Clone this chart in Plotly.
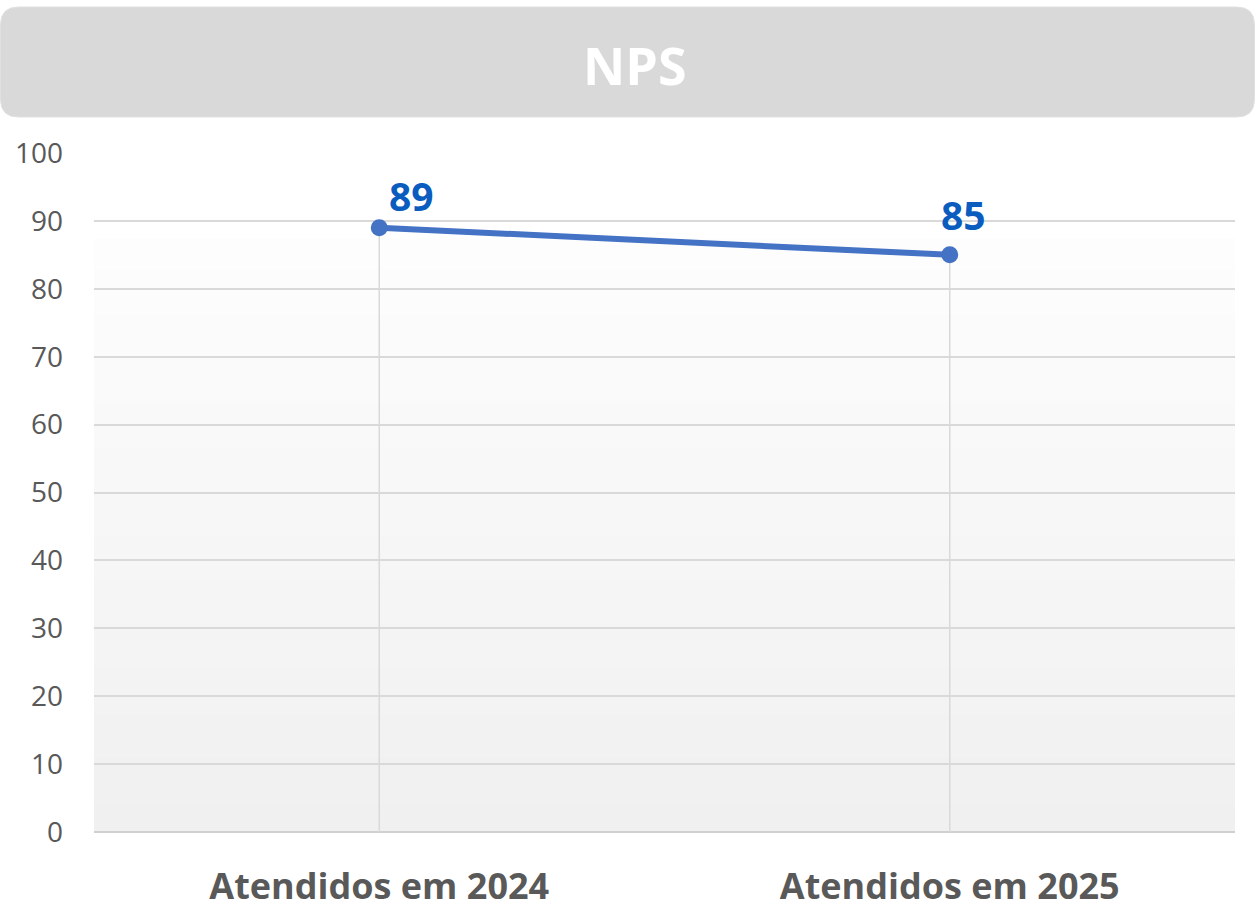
import plotly.graph_objects as go

categories = ["Atendidos em 2024", "Atendidos em 2025"]
nps_values = [89, 85]
y_ticks = [0, 10, 20, 30, 40, 50, 60, 70, 80, 90, 100]
title_text = "NPS"
label_shifts = [(32, 32), (14, 40)]  # (x, y) pixel offsets of value labels

FONT = "Open Sans"
W, H = 1255, 905
PL, PR, PT, PB = 94, 1235, 153, 832  # plot area in page pixels

fig = go.Figure()

fig.add_trace(go.Scatter(
    x=categories, y=nps_values,
    mode="lines+markers",
    line=dict(color="#4472C4", width=6),
    marker=dict(color="#4472C4", size=17),
    error_y=dict(type="data", symmetric=False, array=[0] * len(nps_values),
                 arrayminus=nps_values, color="#D9D9D9", thickness=1.5, width=0),
    hoverinfo="skip", showlegend=False, cliponaxis=False,
))

# gradient background of plot area
shapes = []
n = 40
top = 0.872
c_top = (253, 253, 253)
c_bot = (240, 240, 240)
for i in range(n):
    y0 = top * i / n
    y1 = top * (i + 1) / n
    t = (i + 0.5) / n
    c = tuple(round(c_bot[k] + (c_top[k] - c_bot[k]) * t) for k in range(3))
    shapes.append(dict(type="rect", xref="x domain", yref="y domain",
                       x0=0, x1=1, y0=y0, y1=y1 + 0.002, layer="below",
                       line=dict(width=0), fillcolor="rgb(%d,%d,%d)" % c))

# title banner with rounded corners (page px -> paper coords)
def px(x): return (x - PL) / (PR - PL)
def py(y): return (PB - y) / (PB - PT)
x0, x1, yt0, yt1, r = 0.5, 1254.5, 7, 117, 18
path = (f"M {px(x0 + r)},{py(yt0)} L {px(x1 - r)},{py(yt0)} "
        f"Q {px(x1)},{py(yt0)} {px(x1)},{py(yt0 + r)} "
        f"L {px(x1)},{py(yt1 - r)} Q {px(x1)},{py(yt1)} {px(x1 - r)},{py(yt1)} "
        f"L {px(x0 + r)},{py(yt1)} Q {px(x0)},{py(yt1)} {px(x0)},{py(yt1 - r)} "
        f"L {px(x0)},{py(yt0 + r)} Q {px(x0)},{py(yt0)} {px(x0 + r)},{py(yt0)} Z")
shapes.append(dict(type="path", xref="paper", yref="paper", path=path,
                   fillcolor="#D9D9D9", line=dict(color="#E0E0E0", width=1), layer="below"))

annotations = [dict(text=title_text, xref="paper", yref="paper",
                    x=px(635), y=py(64), xanchor="center", yanchor="middle",
                    showarrow=False,
                    font=dict(family=FONT, size=52, color="white", weight="bold"))]
for cat, val, (dx, dy) in zip(categories, nps_values, label_shifts):
    annotations.append(dict(text=str(val), x=cat, y=val, xref="x", yref="y",
                            xanchor="center", yanchor="middle", showarrow=False,
                            xshift=dx, yshift=dy,
                            font=dict(family=FONT, size=39, color="#0A5CBF", weight="bold")))

fig.update_layout(
    width=W, height=H,
    margin=dict(l=PL, r=W - PR, t=PT, b=H - PB, autoexpand=False),
    paper_bgcolor="white", plot_bgcolor="white",
    shapes=shapes,
    annotations=annotations,
    xaxis=dict(type="category", range=[-0.5, 1.5], showgrid=False,
               showline=False, zeroline=False, ticks="",
               tickfont=dict(family=FONT, size=36, color="#595959", weight="bold"),
               ticklabelstandoff=30),
    yaxis=dict(range=[0, 100], tickvals=y_ticks, showgrid=True,
               gridcolor="#D9D9D9", gridwidth=1.5, zeroline=True,
               zerolinecolor="#D0D0D0", zerolinewidth=2, showline=False, ticks="",
               tickfont=dict(family=FONT, size=28, color="#595959"),
               ticklabelstandoff=30),
)

fig.write_html("out.html", config={"displayModeBar": False},
               post_script="document.body.style.margin='0';document.body.style.overflow='hidden';")
